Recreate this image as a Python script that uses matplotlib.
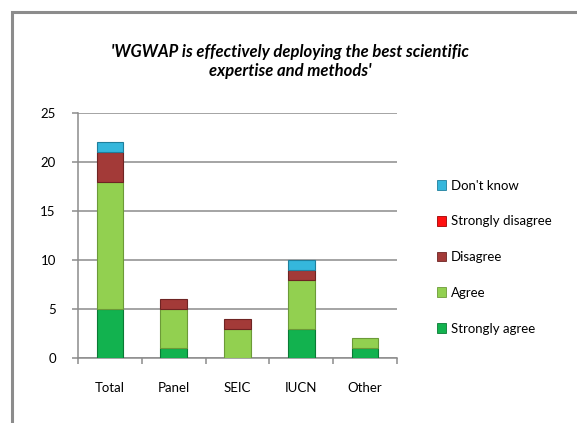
import matplotlib
matplotlib.use("Agg")
import matplotlib.pyplot as plt
import numpy as np
from matplotlib.patches import Rectangle, Patch

plt.rcParams['font.family'] = ['Lato', 'DejaVu Sans']

# data
groups = ["Total", "Panel", "SEIC", "IUCN", "Other"]
strongly_agree = [5, 1, 0, 3, 1]
agree = [13, 4, 3, 5, 1]
disagree = [3, 1, 1, 1, 0]
strongly_disagree = [0, 0, 0, 0, 0]
dont_know = [1, 0, 0, 1, 0]

series = [
    ("Strongly agree", strongly_agree, "#12B24F", "#0A7A35"),
    ("Agree", agree, "#92D050", "#6C9A38"),
    ("Disagree", disagree, "#A33A38", "#6E2423"),
    ("Strongly disagree", strongly_disagree, "#FF1010", "#A00000"),
    ("Don't know", dont_know, "#35B7DC", "#1F7F9C"),
]

fig = plt.figure(figsize=(5.77, 4.23), dpi=100)
# outer chart frame
fig.patches.append(Rectangle((12 / 577, -0.05), 1.2, (423 - 12) / 423 + 0.05,
                             transform=fig.transFigure, fill=False,
                             edgecolor="#8C8C8C", linewidth=2.2))

ax = fig.add_axes([78 / 577, 65 / 423, 319 / 577, 245 / 423])
x = np.arange(len(groups))
bottom = np.zeros(len(groups))
handles = []
for name, vals, color, edge in series:
    vals = np.array(vals, dtype=float)
    nz = vals > 0  # skip empty segments so no stray edge lines are drawn
    ax.bar(x[nz], vals[nz], width=0.42, bottom=bottom[nz], color=color,
           edgecolor=edge, linewidth=0.8, zorder=3)
    bottom += vals
    handles.append(Patch(facecolor=color, edgecolor=edge, linewidth=0.6, label=name))

ax.set_xlim(-0.5, len(groups) - 0.5)
ax.set_ylim(0, 25)
ax.set_yticks(range(0, 26, 5))
ax.yaxis.grid(True, color="#8C8C8C", linewidth=1.1, zorder=0)
ax.set_axisbelow(True)
for s in ["top", "right"]:
    ax.spines[s].set_visible(False)
for s in ["left", "bottom"]:
    ax.spines[s].set_color("#8C8C8C")
    ax.spines[s].set_linewidth(1.1)

# category boundary ticks (major) and centred labels (minor)
ax.set_xticks(np.arange(len(groups) + 1) - 0.5)
ax.set_xticklabels([])
ax.set_xticks(x, minor=True)
ax.set_xticklabels(groups, minor=True)
ax.tick_params(axis="x", which="major", length=4, color="#8C8C8C", width=1.1)
ax.tick_params(axis="x", which="minor", length=0, pad=17, labelsize=9.5)
ax.tick_params(axis="y", length=4, color="#8C8C8C", width=1.1, pad=12, labelsize=9.5)

fig.text(0.503, 0.855,
         "'WGWAP is effectively deploying the best scientific\nexpertise and methods'",
         ha="center", va="center", fontsize=12, fontweight="bold",
         fontstyle="italic", linespacing=1.25)

fig.legend(handles=handles[::-1], loc="upper left",
           bbox_to_anchor=(430 / 577, 1 - 173 / 423), frameon=False,
           fontsize=9.5, handlelength=0.75, handleheight=0.75,
           handletextpad=0.35, labelspacing=1.8, borderpad=0)

fig.savefig("out.png", dpi=100)
